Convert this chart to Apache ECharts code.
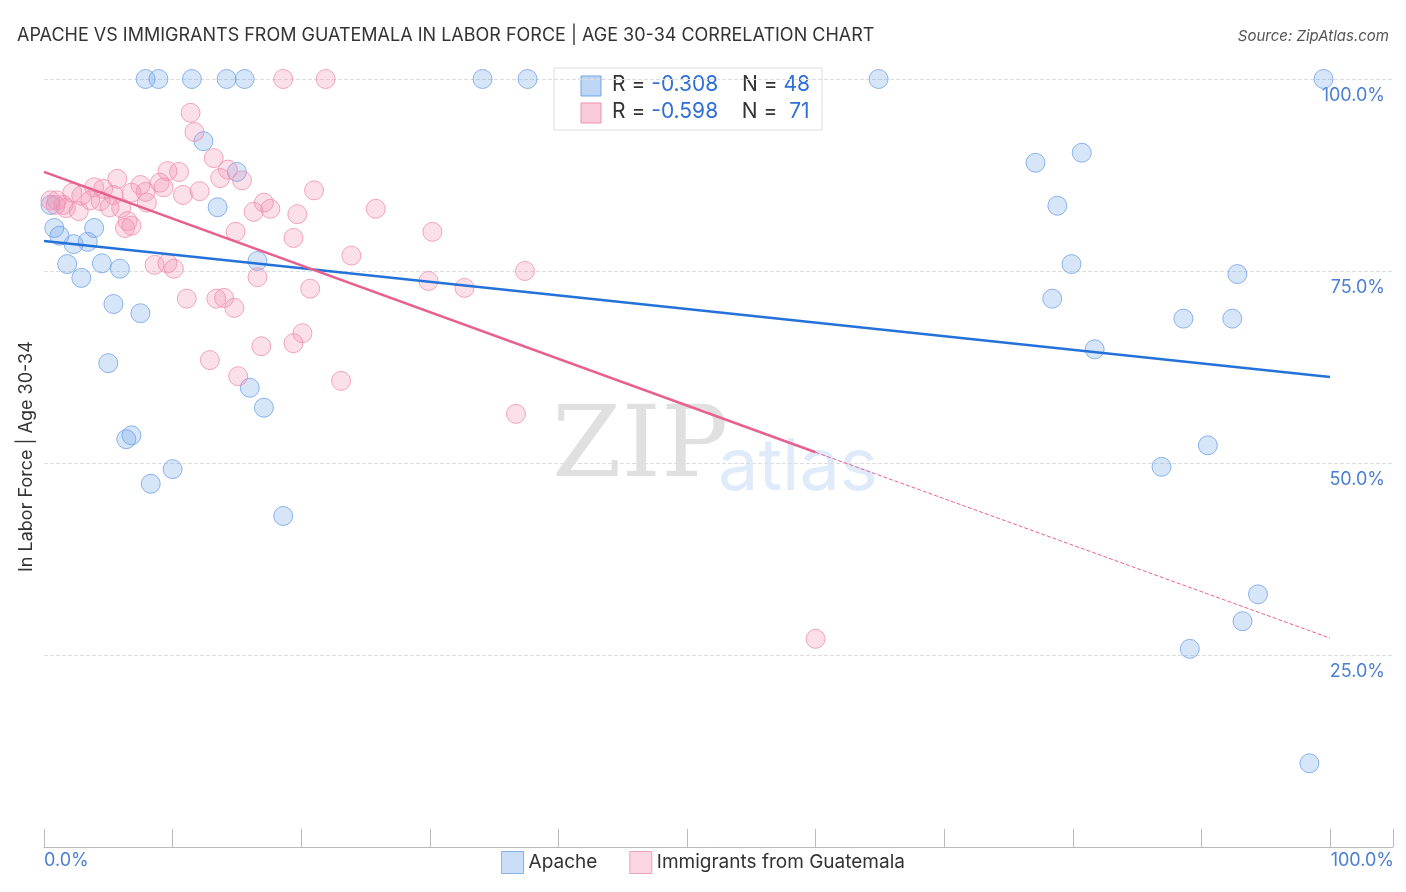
<!DOCTYPE html>
<html><head><meta charset="utf-8">
<script src="https://cdn.jsdelivr.net/npm/echarts@6/dist/echarts.min.js"></script>
<style>body{margin:0;background:#fff}#c{width:1406px;height:892px}</style></head>
<body><div id="c"></div>
<script>
const apachePx = [[146,79],[158,79],[192,79],[226,79],[244,79],[483,79],[528,79],[878,79],[1324,79],
[203,141],[237,172],[217,207],[54,228],[60,236],[94,228],[74,244],[88,242],[67,264],[102,263],[81,278],[120,269],[257,261],[113,304],[140,313],[108,363],[250,388],[264,408],[126,439],[131,435],[172,469],[151,484],[283,516],
[1035,163],[1082,153],[1058,206],[1072,264],[1238,274],[1052,299],[1184,319],[1232,319],[1095,349],[1162,467],[1208,445],[1258,594],[1243,621],[1190,649],[1309,763],[50,205]];
const guatPx = [[283,79],[325,79],[191,113],[195,132],[214,158],[228,170],[242,180],[220,178],[168,171],[179,172],[117,179],[141,185],[160,183],[163,187],[94,187],[103,189],[72,193],[81,196],[100,201],[113,195],[132,193],[145,192],[183,195],[199,191],[147,203],[121,208],[110,207],[90,200],[57,200],[63,205],[50,200],[66,208],[55,205],[79,211],[128,221],[125,228],[131,226],[264,203],[254,212],[270,209],[314,190],[297,214],[376,209],[236,232],[293,238],[433,232],[351,256],[155,265],[167,263],[174,269],[525,271],[258,277],[428,281],[464,288],[310,289],[187,299],[216,299],[224,298],[234,308],[261,346],[293,343],[303,333],[210,360],[238,376],[341,381],[516,414],[816,639]];
// values (percent)
const toVal = p => [+((p[0]-44)/12.86).toFixed(1), +((847-p[1])/7.68).toFixed(1)];
const apache = apachePx.map(toVal);
const guatemala = guatPx.map(toVal);
const apacheTrend = [[0,78.9],[100,61.2]];
const guatTrendSolid = [[0,87.9],[60,51.4]];
const guatTrendDash = [[60,51.4],[100,27.2]];
const blue='#6fa3e8', pink='#f08fb0';
const ch = echarts.init(document.getElementById('c'));
const rich={a:{fontSize:21,fill:'#333',fontFamily:'Inter'},b:{fontSize:21,fill:'#2f6fd6',fontFamily:'Inter'}};
ch.setOption({
  animation:false,
  title:[{text:'APACHE VS IMMIGRANTS FROM GUATEMALA IN LABOR FORCE | AGE 30-34 CORRELATION CHART',left:12,top:22,textStyle:{fontFamily:'Inter',fontSize:18,fontWeight:'normal',color:'#333'}},
    {text:'Source: ZipAtlas.com',right:12,top:24,textStyle:{fontFamily:'Inter',fontSize:15,fontStyle:'italic',fontWeight:'normal',color:'#555'}}],
  grid:{left:44,top:79,width:1349,height:768},
  xAxis:{type:'value',min:0,max:104.9,interval:10,splitLine:{show:false},
    axisLine:{lineStyle:{color:'#bbb'}},axisTick:{show:true,length:-18,lineStyle:{color:'#bbb'}},
    axisLabel:{show:false}},
  yAxis:{type:'value',min:0,max:100,interval:25,position:'right',
    axisLine:{show:false},axisTick:{show:false},
    splitLine:{lineStyle:{type:'dashed',color:'#ddd'}},
    axisLabel:{inside:true,color:'#4a7fd4',fontSize:18,fontFamily:'Inter',verticalAlign:'top',padding:[8,0,0,0],formatter:v=>v===0?'':v.toFixed(1)+'%'}},
  legend:{bottom:13,left:'center',itemWidth:22,itemHeight:22,itemGap:32,textStyle:{fontSize:19,color:'#333',fontFamily:'Inter'},
    data:[{name:'Apache',icon:'rect',itemStyle:{color:'rgba(111,163,232,0.45)',borderColor:blue,borderWidth:1}},
          {name:'Immigrants from Guatemala',icon:'rect',itemStyle:{color:'rgba(240,143,176,0.45)',borderColor:pink,borderWidth:1}}]},
  graphic:[
    {type:'text',x:18,y:572,rotation:Math.PI/2,style:{text:'In Labor Force | Age 30-34',fontSize:18,fill:'#333',fontFamily:'Inter'}},
    {type:'text',left:44,top:852,style:{text:'0.0%',fontSize:18,fill:'#4a7fd4',fontFamily:'Inter'}},
    {type:'text',right:12,top:852,style:{text:'100.0%',fontSize:18,fill:'#4a7fd4',fontFamily:'Inter'}},
    {type:'text',left:552,top:400,style:{text:'ZIP',fontSize:100,fill:'rgba(0,0,0,0.12)',fontFamily:'DejaVu Serif'}},
    {type:'text',left:718,top:432,style:{text:'atlas',fontSize:72,fill:'rgba(111,163,232,0.22)',fontFamily:'Inter'}},
    {type:'rect',shape:{x:554,y:68,width:268,height:62},style:{fill:'#fff',stroke:'#ddd'}},
    {type:'rect',shape:{x:581,y:76,width:20,height:20},style:{fill:'rgba(111,163,232,0.45)',stroke:blue}},
    {type:'rect',shape:{x:581,y:103,width:20,height:20},style:{fill:'rgba(240,143,176,0.45)',stroke:pink}},
    {type:'text',x:612,y:74,style:{rich,text:'{a|R = }{b|-0.308}{a|    N = }{b|48}'}},
    {type:'text',x:612,y:101,style:{rich,text:'{a|R = }{b|-0.598}{a|    N =  }{b|71}'}}
  ],
  series:[
    {name:'Apache',type:'scatter',data:apache,symbolSize:19,itemStyle:{color:'rgba(111,163,232,0.35)',borderColor:blue,borderWidth:1}},
    {name:'Immigrants from Guatemala',type:'scatter',data:guatemala,symbolSize:19,itemStyle:{color:'rgba(240,143,176,0.35)',borderColor:pink,borderWidth:1}},
    {type:'line',data:apacheTrend,symbol:'none',lineStyle:{color:'#2472d9',width:2.5},silent:true},
    {type:'line',data:guatTrendSolid,symbol:'none',lineStyle:{color:'#e8608e',width:2.5},silent:true},
    {type:'line',data:guatTrendDash,symbol:'none',lineStyle:{color:'#e8608e',width:1,type:'dashed'},silent:true}
  ]
});
</script></body></html>
